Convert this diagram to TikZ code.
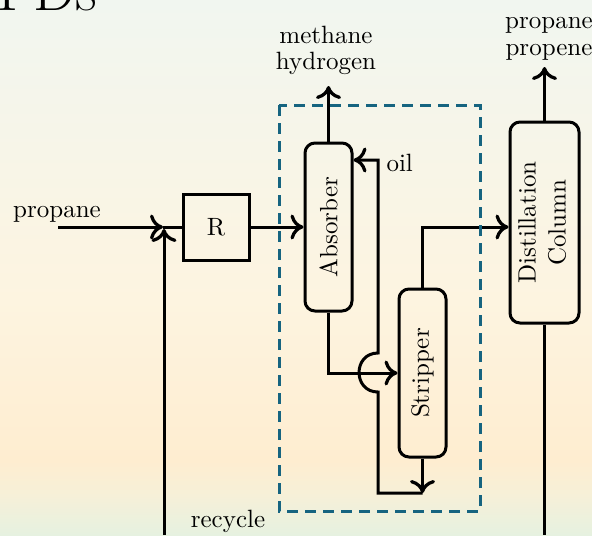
\documentclass[tikz,border=0pt]{standalone}
\usetikzlibrary{arrows.meta}
\definecolor{dashblue}{RGB}{22,100,128}
\definecolor{bgA}{RGB}{241,246,240}
\definecolor{bgB}{RGB}{247,245,232}
\definecolor{bgC}{RGB}{253,244,224}
\definecolor{bgD}{RGB}{254,237,208}
\definecolor{bgE}{RGB}{246,240,216}
\definecolor{bgF}{RGB}{230,241,224}
\tikzset{
  flow/.style={line width=1.2pt},
  arr/.style={flow,-{To[length=5.2pt,width=10pt,line width=1.3pt]}},
  unitbox/.style={draw,line width=1.2pt,minimum width=26.4pt,minimum height=26.4pt,inner sep=0pt},
  colbox/.style={draw,line width=1.2pt,rounded corners=4pt,inner sep=0pt},
  lbl/.style={inner sep=0pt,align=center}
}
\begin{document}
\begin{tikzpicture}[x=0.4pt,y=-0.4pt]
\useasboundingbox (0,0) rectangle (592,535);
% background
\shade[top color=bgA,bottom color=bgB] (0,0) rectangle (592,151);
\shade[top color=bgB,bottom color=bgC] (0,150) rectangle (592,301);
\shade[top color=bgC,bottom color=bgD] (0,300) rectangle (592,461);
\shade[top color=bgD,bottom color=bgE] (0,460) rectangle (592,496);
\shade[top color=bgE,bottom color=bgF] (0,495) rectangle (592,535);
% title (cut off)
\node[anchor=base east,inner sep=0pt] (title) at (98,10) {\fontsize{24}{28}\selectfont PFDs};
% units
\node[unitbox] (R) at (216,227) {R};
\node[colbox,minimum width=18.8pt,minimum height=67.2pt] (abs) at (328.5,227) {\rotatebox{90}{Absorber}};
\node[colbox,minimum width=18.8pt,minimum height=67.2pt] (strip) at (422.5,373) {\rotatebox{90}{Stripper}};
\node[colbox,minimum width=27.6pt,minimum height=80.4pt] (col) at (544.5,222.5)
  {\rotatebox{90}{\begin{tabular}{@{}c@{}}Distillation\\Column\end{tabular}}};
% coordinates
\coordinate (feed) at (58,227);
\coordinate (junc) at (163,227);
\coordinate (rec) at (164,535);
\coordinate (recin) at (164,229);
\coordinate (gas) at (328.5,86);
\coordinate (prod) at (544.5,67);
\coordinate (colbot) at (544.5,535);
\coordinate (sbot) at (422.5,493);
% labels
\node[lbl,anchor=base] (lfeed) at (57,217) {propane};
\node[lbl,anchor=base] (lrec) at (228,527) {recycle};
\node[lbl,anchor=south] (lgas) at (326,75) {methane\\[-1.8pt]hydrogen};
\node[lbl,anchor=south] (lprod) at (549,61) {propane\\[-1.2pt]propene};
\node[lbl,anchor=base west] (loil) at (386,171) {oil};
% connectors
\draw[arr] (feed) -- (junc);
\draw[flow] (junc) -- (R.west);
\draw[arr] (rec) -- (recin);
\draw[arr] (R.east) -- (abs.west);
\draw[arr] (abs.north) -- (gas);
\draw[arr] (abs.south) |- (strip.west);
\draw[arr] (strip.south) -- (sbot);
\draw[arr] (sbot) -- (378,493) -- (378,392)
  .. controls (352.7,392) and (352.7,353) .. (378,353)
  -- (378,160) -- (abs.east |- 0,160);
\draw[arr] (strip.north) |- (col.west |- R.east);
\draw[arr] (col.north) -- (prod);
\draw[flow] (col.south) -- (colbot);
% dashed envelope
\draw[dashblue,line width=1.2pt,dash pattern=on 4.4pt off 2.8pt] (279,105) rectangle (480,511);
\end{tikzpicture}
\end{document}
